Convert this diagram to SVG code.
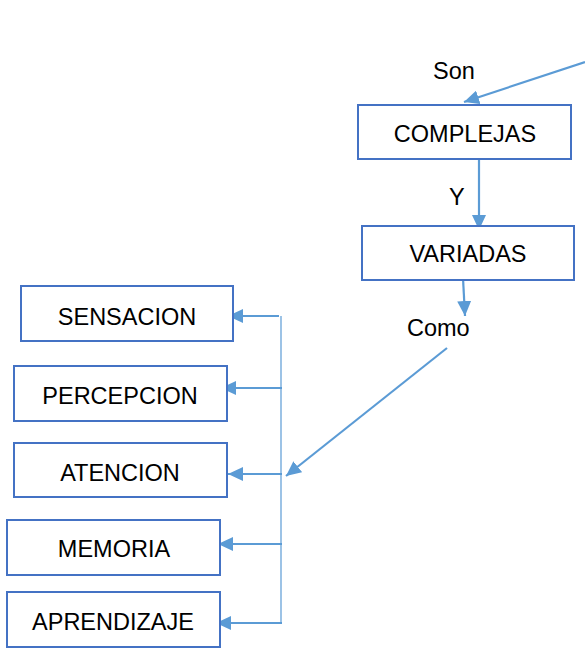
<svg xmlns="http://www.w3.org/2000/svg" width="585" height="648" viewBox="0 0 585 648">
<style>
.box{fill:#fff;stroke:#4472C4;stroke-width:2}
.t{font-family:"Liberation Sans",Arial,sans-serif;font-size:23.5px;fill:#000}
.c{fill:none;stroke:#5B9BD5;stroke-width:2.2}
.thin{fill:none;stroke:#5B9BD5;stroke-width:1.2}
</style>
<defs>
<marker id="ah" markerUnits="userSpaceOnUse" markerWidth="16" markerHeight="14" refX="15" refY="7" orient="auto">
<path d="M0,0 L15,7 L0,14 z" fill="#5B9BD5"/>
</marker>
</defs>
<g id="connectors">
<line class="c" x1="585" y1="62" x2="464" y2="102" marker-end="url(#ah)"/>
<line class="c" x1="479" y1="160" x2="479" y2="230" marker-end="url(#ah)"/>
<line class="c" x1="463" y1="278" x2="465" y2="316" marker-end="url(#ah)"/>
<line class="c" x1="447" y1="348" x2="286" y2="476" marker-end="url(#ah)"/>
<line class="thin" x1="281" y1="316" x2="281" y2="624"/>
<line class="c" x1="279" y1="316" x2="228" y2="316" marker-end="url(#ah)"/>
<line class="c" x1="282" y1="388" x2="221" y2="388" marker-end="url(#ah)"/>
<line class="c" x1="282" y1="474" x2="228" y2="474" marker-end="url(#ah)"/>
<line class="c" x1="282" y1="544" x2="218" y2="544" marker-end="url(#ah)"/>
<line class="c" x1="282" y1="623" x2="216" y2="623" marker-end="url(#ah)"/>
</g>
<g id="labels">
<text class="t" x="433" y="79">Son</text>
<text class="t" x="449" y="205">Y</text>
<text class="t" x="407" y="336">Como</text>
</g>
<g id="complejas"><rect class="box" x="358" y="105" width="213" height="54"/><text class="t" x="465" y="142" text-anchor="middle">COMPLEJAS</text></g>
<g id="variadas"><rect class="box" x="362" y="226" width="212" height="54"/><text class="t" x="468" y="262" text-anchor="middle">VARIADAS</text></g>
<g id="sensacion"><rect class="box" x="21" y="286" width="212" height="55"/><text class="t" x="127" y="325" text-anchor="middle">SENSACION</text></g>
<g id="percepcion"><rect class="box" x="14" y="366" width="213" height="55"/><text class="t" x="120" y="404" text-anchor="middle">PERCEPCION</text></g>
<g id="atencion"><rect class="box" x="14" y="443" width="213" height="54"/><text class="t" x="120" y="481" text-anchor="middle">ATENCION</text></g>
<g id="memoria"><rect class="box" x="7" y="520" width="213" height="55"/><text class="t" x="114" y="557" text-anchor="middle">MEMORIA</text></g>
<g id="aprendizaje"><rect class="box" x="7" y="592" width="213" height="55"/><text class="t" x="113" y="630" text-anchor="middle">APRENDIZAJE</text></g>
</svg>
